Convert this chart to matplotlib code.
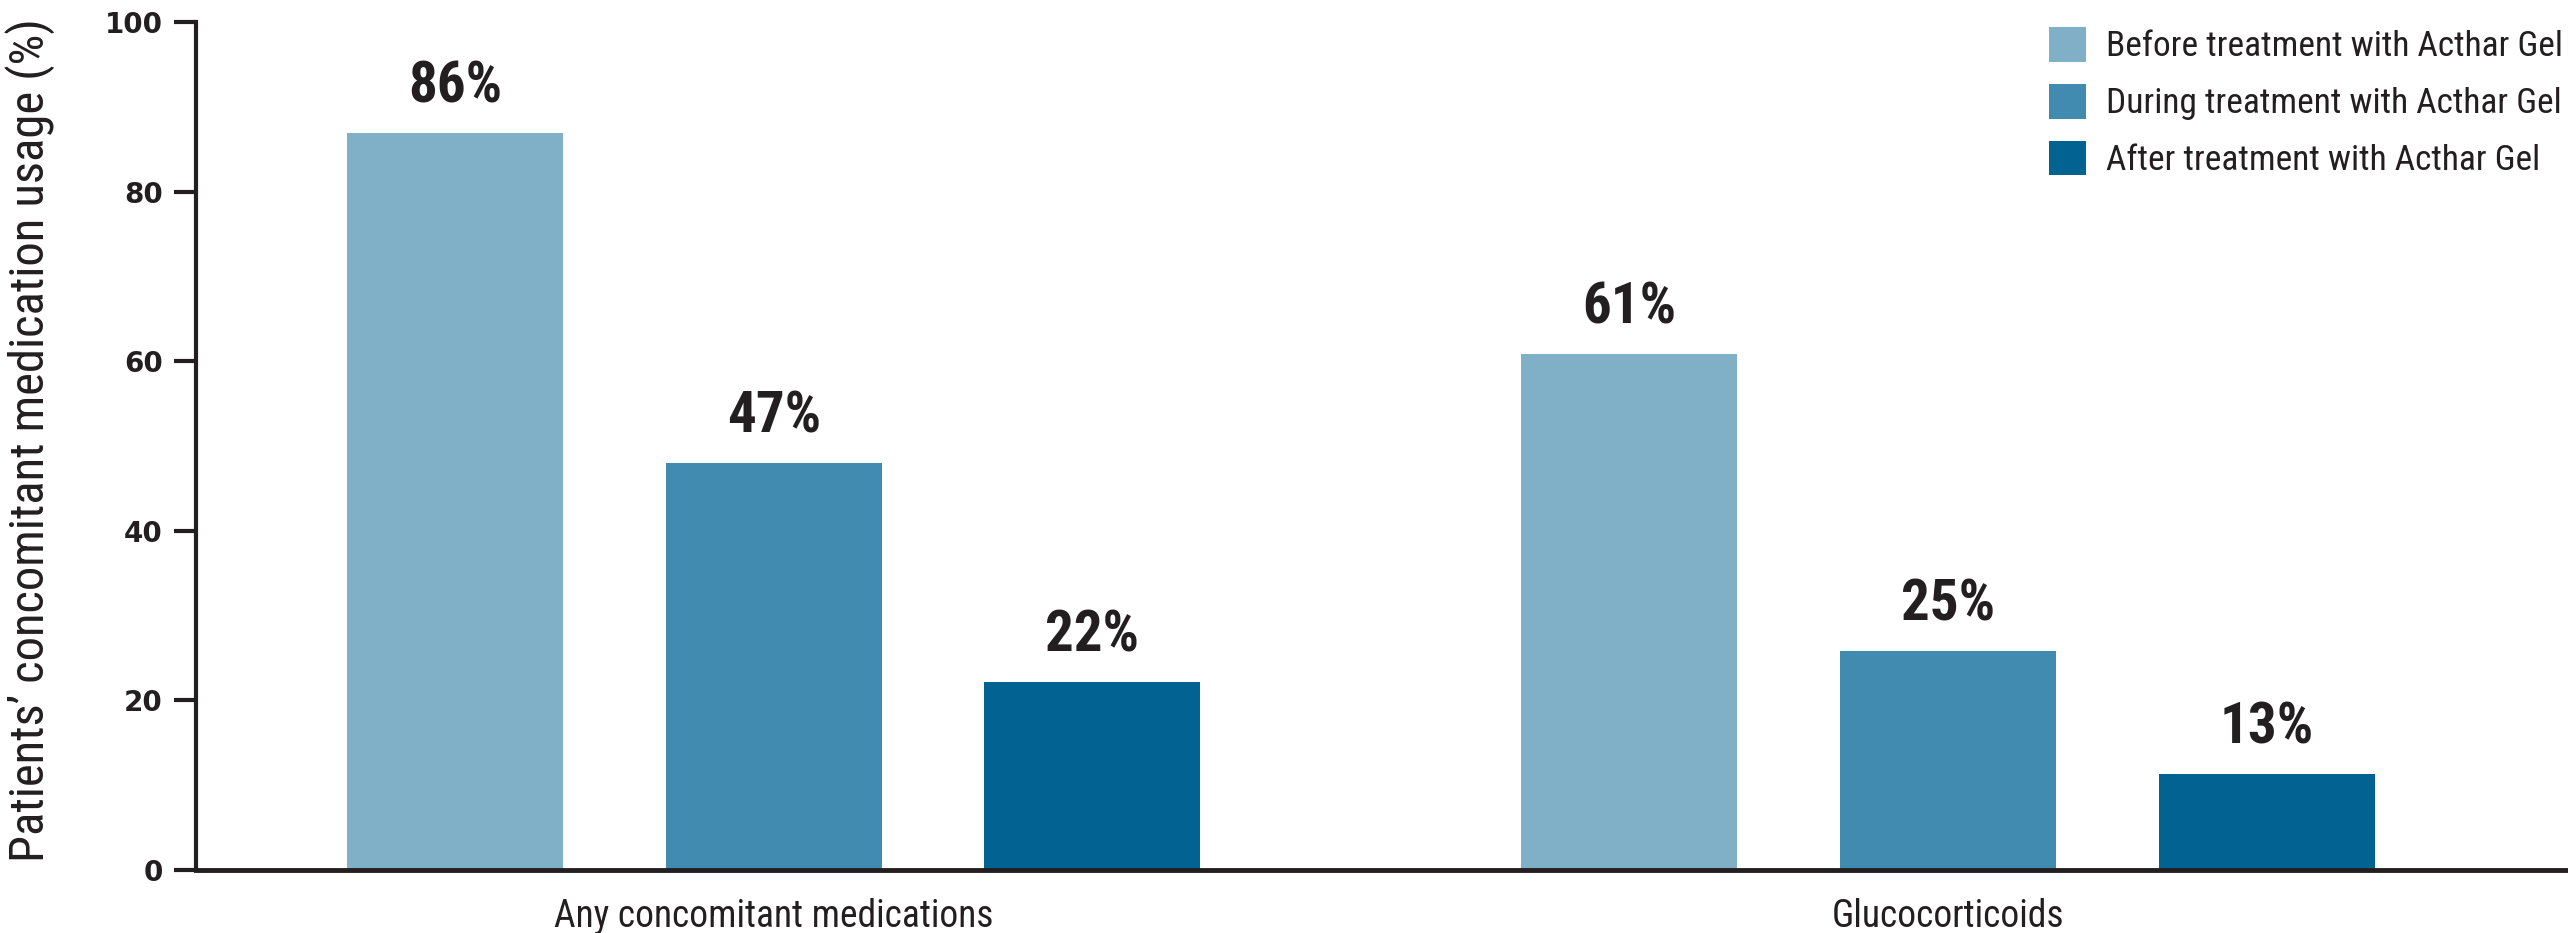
import matplotlib
matplotlib.use("Agg")
import matplotlib.pyplot as plt
from matplotlib.patches import Patch
import numpy as np

categories = ["Any concomitant medications", "Glucocorticoids"]
series_names = ["Before treatment with Acthar Gel",
                "During treatment with Acthar Gel",
                "After treatment with Acthar Gel"]
before = [86.9, 60.8]
during = [48.0, 25.8]
after = [22.2, 11.3]
before_labels = ["86%", "61%"]
during_labels = ["47%", "25%"]
after_labels = ["22%", "13%"]
yticks = [0, 20, 40, 60, 80, 100]
ylabel = "Patients\u2019 concomitant medication usage (%)"

colors = ["#80B0C8", "#428BB0", "#026393"]
TXT = "#231F20"
COND = ["Roboto Condensed", "Roboto", "DejaVu Sans"]

W, H = 2568, 933
fig = plt.figure(figsize=(W / 100, H / 100), dpi=100)
ax = fig.add_axes([196 / W, 63 / H, 1 - 196 / W, 848 / H])

x = np.arange(len(categories))
offset = 0.2714
width = 0.184
values = [before, during, after]
labels = [before_labels, during_labels, after_labels]
for i, (vals, labs, c) in enumerate(zip(values, labels, colors)):
    xs = x + (i - 1) * offset
    ax.bar(xs, vals, width=width, color=c, edgecolor="none", zorder=2)
    for xi, v, lab in zip(xs, vals, labs):
        ax.annotate(lab, (xi, v), xytext=(0, 22), textcoords="offset points",
                    ha="center", va="baseline", fontsize=41, fontweight="bold",
                    color=TXT, family=COND)

ax.set_xlim(-0.492, 1.528)
ax.set_ylim(0, 100)
ax.set_yticks(yticks)
ax.set_yticklabels([str(t) for t in yticks], fontsize=20, fontweight="bold",
                   color=TXT, family=["DejaVu Sans"])
ax.tick_params(axis="y", length=16, width=3, color=TXT, pad=8)
ax.set_xticks(x)
ax.set_xticklabels(categories, fontsize=27, color=TXT, family=COND)
ax.tick_params(axis="x", length=0, pad=20)
for s in ["top", "right"]:
    ax.spines[s].set_visible(False)
ax.spines["left"].set_linewidth(3)
ax.spines["bottom"].set_linewidth(3.5)
ax.spines["left"].set_color(TXT)
ax.spines["bottom"].set_color(TXT)
ax.spines["bottom"].set_capstyle("projecting")

fig.text(30 / W, 1 - 440 / H, ylabel, rotation=90, ha="center", va="center",
         fontsize=35, color=TXT, family=COND)

handles = [Patch(facecolor=c, edgecolor="none") for c in colors]
fs_leg = 25.5
px = fs_leg * 100 / 72
leg = fig.legend(handles, series_names, loc="upper left",
                 bbox_to_anchor=(2049 / W, 1 - 27 / H), frameon=False,
                 handlelength=37 / px, handleheight=40 / px,
                 handletextpad=20 / px, labelspacing=0.58,
                 borderpad=0, borderaxespad=0,
                 prop={"family": COND, "size": fs_leg})
for t in leg.get_texts():
    t.set_color(TXT)

fig.savefig("out.png", dpi=100)
